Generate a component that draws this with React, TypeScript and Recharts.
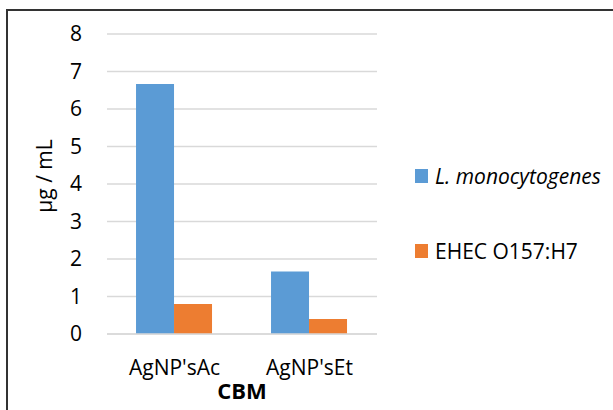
import React from 'react';
import { BarChart, Bar, XAxis, YAxis, CartesianGrid, Legend } from 'recharts';

const categories = ["AgNP'sAc", "AgNP'sEt"];
const listeria = [6.67, 1.67];
const ehec = [0.8, 0.4];
const yTicks = [0, 1, 2, 3, 4, 5, 6, 7, 8];

const series = [
  { key: 'listeria', name: 'L. monocytogenes', color: '#5B9BD5', italic: true },
  { key: 'ehec', name: 'EHEC O157:H7', color: '#ED7D31', italic: false },
];

const data = categories.map((cat, i) => ({ cat, listeria: listeria[i], ehec: ehec[i] }));

const FONT = '"Open Sans", Lato, sans-serif';
const FS = 21;

function YLabel() {
  return (
    <text
      x={52}
      y={176}
      transform="rotate(-90 52 176)"
      textAnchor="middle"
      fontSize={FS}
      fontFamily={FONT}
      fill="#000"
    >
      µg / mL
    </text>
  );
}

function LegendBox() {
  return (
    <div style={{ fontFamily: FONT, fontSize: FS, color: '#000' }}>
      {series.map((s) => (
        <div key={s.key} style={{ display: 'flex', alignItems: 'center', height: 14, marginBottom: 61 }}>
          <span style={{ display: 'inline-block', width: 13, height: 14, background: s.color, marginRight: 7 }} />
          <span style={{ fontStyle: s.italic ? 'italic' : 'normal', whiteSpace: 'nowrap' }}>{s.name}</span>
        </div>
      ))}
    </div>
  );
}

export default function App() {
  return (
    <div style={{ position: 'absolute', left: 0, top: 0, width: 613, height: 410, overflow: 'hidden', background: '#fff' }}>
      <div
        style={{
          position: 'absolute',
          left: 6,
          top: 9,
          width: 640,
          height: 440,
          border: '2px solid #333',
          boxSizing: 'border-box',
        }}
      />
      <BarChart
        width={613}
        height={410}
        data={data}
        margin={{ top: 34, right: 236, bottom: 6, left: 0 }}
        barCategoryGap="21.5%"
        barGap={0}
        style={{ fontFamily: FONT }}
      >
        <CartesianGrid vertical={false} stroke="#D9D9D9" strokeWidth={1.5} />
        <XAxis
          dataKey="cat"
          height={70}
          axisLine={{ stroke: '#D9D9D9', strokeWidth: 1.5 }}
          tickLine={false}
          tickMargin={20}
          tick={{ fontSize: FS, fill: '#000', fontFamily: FONT }}
          label={{ value: 'CBM', position: 'insideBottom', offset: 5, fontSize: 22, fontWeight: 700, fill: '#000', fontFamily: FONT }}
        />
        <YAxis
          width={107}
          domain={[0, 8]}
          ticks={yTicks}
          interval={0}
          axisLine={false}
          tickLine={false}
          tickMargin={19}
          tick={{ fontSize: FS, fill: '#000', fontFamily: FONT }}
          label={<YLabel />}
        />
        <Legend
          layout="vertical"
          align="center"
          verticalAlign="middle"
          wrapperStyle={{ left: 415, top: 169, width: 200 }}
          content={<LegendBox />}
        />
        {series.map((s) => (
          <Bar key={s.key} dataKey={s.key} name={s.name} fill={s.color} isAnimationActive={false} />
        ))}
      </BarChart>
    </div>
  );
}
